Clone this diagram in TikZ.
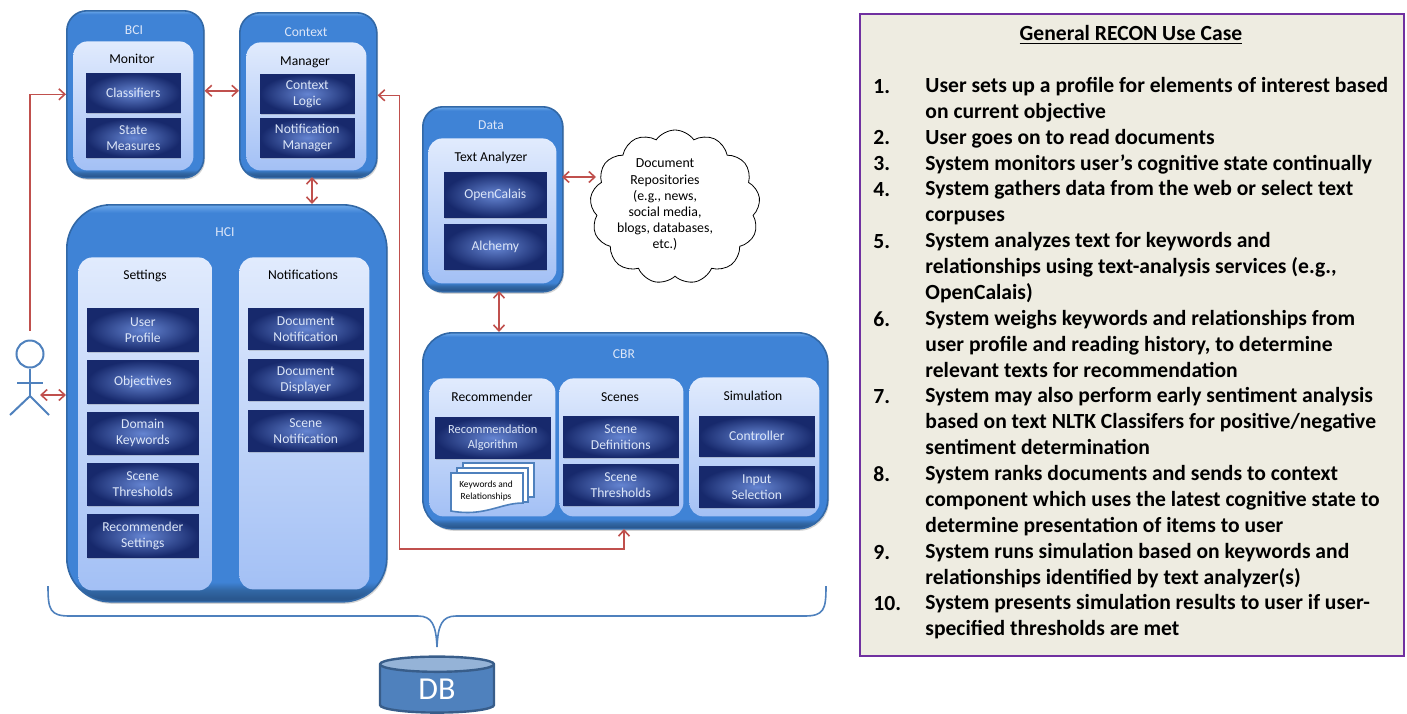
\documentclass[tikz,border=0pt]{standalone}
\usepackage{fontspec}
\setmainfont{Carlito}
\usetikzlibrary{arrows.meta,shadows,shapes.symbols,shapes.geometric}

\definecolor{linkred}{HTML}{C0504D}
\definecolor{panelfill}{HTML}{EEECE1}
\definecolor{panelline}{HTML}{7030A0}
\definecolor{actorblue}{HTML}{4F81BD}
\definecolor{dbline}{HTML}{385D8A}
\definecolor{dbtop}{HTML}{95B3D7}
\definecolor{outerline}{HTML}{3268A6}
\definecolor{outerrim}{HTML}{2A5890}
\definecolor{outermain}{HTML}{3F83D6}
\definecolor{outerlight}{HTML}{6EAAEB}
\definecolor{innertop}{HTML}{E1EBFD}
\definecolor{innerbottom}{HTML}{A3C0F5}
\definecolor{darkmid}{HTML}{6585D2}
\definecolor{darkedge}{HTML}{17296C}
\definecolor{darktext}{HTML}{DCE6F8}

\pgfdeclareverticalshading{outershade}{100bp}{
  color(0bp)=(outerrim); color(25.5bp)=(outerrim);
  color(26.5bp)=(outerline); color(27.5bp)=(outermain);
  color(74bp)=(outermain);
  color(75bp)=(outerlight); color(100bp)=(outerlight)}

\tikzset{
  outerbox/.style={anchor=north west, draw=outerline, line width=.8pt, shading=outershade,
    drop shadow={opacity=.35, shadow xshift=.6pt, shadow yshift=-1pt}},
  innerbox/.style={anchor=north west, rounded corners=7pt, top color=innertop, bottom color=innerbottom},
  darkbox/.style={anchor=north west, inner sep=0pt, align=center, text=darktext, font=\fontsize{6.8}{8}\selectfont,
    inner color=darkmid, outer color=darkedge, draw=darkedge, line width=.3pt,
    drop shadow={opacity=.3, shadow xshift=.4pt, shadow yshift=-.6pt}},
  whitetitle/.style={text=darktext, text height=6.5pt, text depth=1.5pt, font=\fontsize{6.8}{8}\selectfont},
  blacktitle/.style={text=black, text height=6.5pt, text depth=1.5pt, font=\fontsize{6.8}{8}\selectfont},
  link/.style={thick, linkred, <->, >={Straight Barb[length=3pt,width=5.5pt]}},
  actorline/.style={actorblue, line width=1pt},
  sheet/.style={draw=actorblue, fill=white, line width=.8pt},
  numlabel/.style={anchor=north west, inner sep=0pt, text height=8pt, font=\fontsize{10.8}{13}\bfseries\selectfont},
  itemlabel/.style={anchor=north west, inner sep=0pt, align=left, execute at begin node={\rule{0pt}{8pt}},
    font=\fontsize{10.8}{13}\bfseries\selectfont}
}

\begin{document}
\begin{tikzpicture}[x=.5pt, y=-.5pt]
  \useasboundingbox (0, 0) rectangle (1407, 713);

  \node[outerbox, rounded corners=10pt, minimum width=68.5pt, minimum height=83.5pt] (bci) at (66, 10) {};
  \node[outerbox, rounded corners=10pt, minimum width=68.5pt, minimum height=82.5pt] (context) at (239, 12) {};
  \node[outerbox, rounded corners=22pt, minimum width=160pt, minimum height=198.5pt] (hci) at (66, 204) {};
  \node[outerbox, rounded corners=10pt, minimum width=70pt, minimum height=92.5pt] (data) at (422, 106) {};
  \node[outerbox, rounded corners=15pt, minimum width=202.5pt, minimum height=98pt] (cbr) at (422, 332) {};

  \node[whitetitle] (bcititle) at (134, 29) {BCI};
  \node[whitetitle] (contexttitle) at (306, 31) {Context};
  \node[whitetitle] (hcititle) at (225, 231) {HCI};
  \node[whitetitle] (datatitle) at (491, 124) {Data};
  \node[whitetitle] (cbrtitle) at (624, 353) {CBR};

  \node[innerbox, minimum width=60pt, minimum height=64.5pt] (monitor) at (73, 41) {};
  \node[innerbox, minimum width=60pt, minimum height=64pt] (manager) at (246, 42) {};
  \node[innerbox, minimum width=67pt, minimum height=166.5pt] (settings) at (78, 257) {};
  \node[innerbox, minimum width=65pt, minimum height=166pt] (notifications) at (239, 257) {};
  \node[innerbox, minimum width=64pt, minimum height=72.5pt] (analyzer) at (428, 138) {};
  \node[innerbox, minimum width=63pt, minimum height=69pt] (recommender) at (429, 378) {};
  \node[innerbox, minimum width=62pt, minimum height=69pt] (scenes) at (559, 378) {};
  \node[innerbox, minimum width=65pt, minimum height=69.5pt] (simulation) at (689, 377) {};

  \node[blacktitle] (monitortitle) at (132, 58) {Monitor};
  \node[blacktitle] (managertitle) at (305, 60) {Manager};
  \node[blacktitle] (settingstitle) at (145, 274) {Settings};
  \node[blacktitle] (notificationstitle) at (303, 274) {Notifications};
  \node[blacktitle] (analyzertitle) at (491, 156) {Text Analyzer};
  \node[blacktitle] (recommendertitle) at (492, 396) {Recommender};
  \node[blacktitle] (scenestitle) at (620, 396) {Scenes};
  \node[blacktitle] (simulationtitle) at (753, 395) {Simulation};

  \node[darkbox, minimum width=47pt, minimum height=19.5pt] (classifiers) at (86, 73) {Classifiers};
  \node[darkbox, minimum width=47pt, minimum height=19.5pt] (state) at (86, 118) {State\\Measures};
  \node[darkbox, minimum width=47pt, minimum height=19.5pt] (logic) at (260, 74) {Context\\Logic};
  \node[darkbox, minimum width=47pt, minimum height=19.5pt] (notifmanager) at (260, 118) {Notification\\Manager};

  \node[darkbox, minimum width=55.5pt, minimum height=21.5pt] (profile) at (87, 308) {User\\Profile};
  \node[darkbox, minimum width=55.5pt, minimum height=21.5pt] (objectives) at (87, 360) {Objectives};
  \node[darkbox, minimum width=55.5pt, minimum height=21pt] (keywords) at (87, 412) {Domain\\Keywords};
  \node[darkbox, minimum width=55.5pt, minimum height=21pt] (thresholds) at (87, 463) {Scene\\Thresholds};
  \node[darkbox, minimum width=55.5pt, minimum height=21.5pt] (recsettings) at (87, 514) {Recommender\\Settings};

  \node[darkbox, minimum width=57.5pt, minimum height=20.5pt] (docnotif) at (248, 308) {Document\\Notification};
  \node[darkbox, minimum width=57.5pt, minimum height=20.5pt] (docdisplay) at (248, 359) {Document\\Displayer};
  \node[darkbox, minimum width=57.5pt, minimum height=20.5pt] (scenenotif) at (248, 410) {Scene\\Notification};

  \node[darkbox, minimum width=51pt, minimum height=22.5pt] (opencalais) at (444, 172) {OpenCalais};
  \node[darkbox, minimum width=51pt, minimum height=22.5pt] (alchemy) at (444, 224) {Alchemy};

  \node[darkbox, minimum width=57.5pt, minimum height=20.5pt, font=\fontsize{6.2}{7.7}\selectfont] (algorithm) at (435, 417) {Recommendation\\Algorithm};
  \node[darkbox, minimum width=57.5pt, minimum height=20.5pt] (definitions) at (563, 416) {Scene\\Definitions};
  \node[darkbox, minimum width=57.5pt, minimum height=20.5pt] (scenethresholds) at (563, 464) {Scene\\Thresholds};
  \node[darkbox, minimum width=57.5pt, minimum height=20pt] (controller) at (699, 416) {Controller};
  \node[darkbox, minimum width=57.5pt, minimum height=20.5pt] (input) at (699, 466) {Input\\Selection};

  \draw[sheet] (463, 463) rectangle (534, 497);
  \draw[sheet] (457, 468) rectangle (528, 502);
  \draw[sheet] (451, 473) -- (523, 473) -- (523, 503)
    .. controls (500, 503) and (485, 517) .. (451, 511) -- cycle;
  \node[align=center, font=\fontsize{4.7}{5.6}\selectfont] (stack) at (486, 491) {Keywords and\\Relationships};

  \node[cloud, draw=black, fill=white, cloud puffs=13, cloud puff arc=110, aspect=1.1, inner sep=0pt,
    minimum width=85pt, minimum height=77pt] (repos) at (675, 207) {};
  \node[align=center, inner sep=0pt, font=\fontsize{6.9}{8.1}\selectfont] (repostext) at (665, 205)
    {Document\\Repositories\\(e.g., news,\\social media,\\blogs, databases,\\etc.)};

  \node[circle, draw=actorblue, line width=1pt, inner sep=0pt, minimum size=13.5pt] (head) at (30, 354) {};
  \coordinate (hip) at (30, 396);
  \coordinate (armleft) at (17, 383);
  \coordinate (armright) at (43, 383);
  \coordinate (footleft) at (10, 415);
  \coordinate (footright) at (49, 415);
  \coordinate (actortop) at (30, 331);
  \coordinate (actorside) at (40, 395);
  \coordinate (cbrport) at (624, 529);
  \coordinate (busturn) at (624, 549);
  \coordinate (contextport) at (312, 177);
  \coordinate (hciport) at (312, 204);
  \coordinate (dataport) at (499, 291);
  \coordinate (cbrtop) at (499, 332);
  \coordinate (dataside) at (562, 177);
  \coordinate (reposside) at (596, 177);
  \draw[actorline] (head.south) -- (hip);
  \draw[actorline] (armleft) -- (armright);
  \draw[actorline] (footleft) -- (hip) -- (footright);

  \draw[link, <-] (bci.west) -- ++(-36, 0) -- (actortop);
  \draw[link] ([yshift=1.75pt]bci.east) -- ([yshift=2.25pt]context.west);
  \draw[link] (context.east) -- ++(22, 0) |- (busturn) -- (cbrport);
  \draw[link] (contextport) -- (hciport);
  \draw[link] (dataport) -- (cbrtop);
  \draw[link] (dataside) -- (reposside);
  \draw[link] (actorside) -- (hci.west |- actorside);

  \draw[actorblue, line width=.8pt] (48, 586) .. controls (48, 610) and (50, 616) .. (70, 616)
    -- (418, 616) .. controls (432, 616) and (436, 625) .. (437, 647)
    .. controls (438, 625) and (442, 616) .. (456, 616)
    -- (804, 616) .. controls (824, 616) and (826, 610) .. (826, 586);

  \node[cylinder, shape border rotate=90, aspect=.41, draw=dbline, line width=1.2pt, inner sep=0pt,
    cylinder uses custom fill, cylinder body fill=actorblue, cylinder end fill=dbtop,
    minimum width=57pt, minimum height=28pt, text=white, font=\fontsize{16}{18}\selectfont]
    (db) at (437, 689) {DB};

  \node[anchor=north west, draw=panelline, fill=panelfill, line width=.8pt, minimum width=272pt, minimum height=321pt] (panel) at (859, 13) {};
  \node[font=\fontsize{10.8}{13}\bfseries\selectfont] (paneltitle) at (1131, 35) {\underline{General RECON Use Case}};

  \node[numlabel] (n1) at (873, 77) {1.};
  \node[itemlabel] (t1) at (925, 77) {User sets up a profile for elements of interest based\\on current objective};
  \node[numlabel] (n2) at (873, 128) {2.};
  \node[itemlabel] (t2) at (925, 128) {User goes on to read documents};
  \node[numlabel] (n3) at (873, 154) {3.};
  \node[itemlabel] (t3) at (925, 154) {System monitors user’s cognitive state continually};
  \node[numlabel] (n4) at (873, 180) {4.};
  \node[itemlabel] (t4) at (925, 180) {System gathers data from the web or select text\\corpuses};
  \node[numlabel] (n5) at (873, 232) {5.};
  \node[itemlabel] (t5) at (925, 232) {System analyzes text for keywords and\\relationships using text-analysis services (e.g.,\\OpenCalais)};
  \node[numlabel] (n6) at (873, 310) {6.};
  \node[itemlabel] (t6) at (925, 310) {System weighs keywords and relationships from\\user profile and reading history, to determine\\relevant texts for recommendation};
  \node[numlabel] (n7) at (873, 387) {7.};
  \node[itemlabel] (t7) at (925, 387) {System may also perform early sentiment analysis\\based on text NLTK Classifers for positive/negative\\sentiment determination};
  \node[numlabel] (n8) at (873, 465) {8.};
  \node[itemlabel] (t8) at (925, 465) {System ranks documents and sends to context\\component which uses the latest cognitive state to\\determine presentation of items to user};
  \node[numlabel] (n9) at (873, 543) {9.};
  \node[itemlabel] (t9) at (925, 543) {System runs simulation based on keywords and\\relationships identified by text analyzer(s)};
  \node[numlabel] (n10) at (873, 594) {10.};
  \node[itemlabel] (t10) at (925, 594) {System presents simulation results to user if user-\\specified thresholds are met};
\end{tikzpicture}
\end{document}
